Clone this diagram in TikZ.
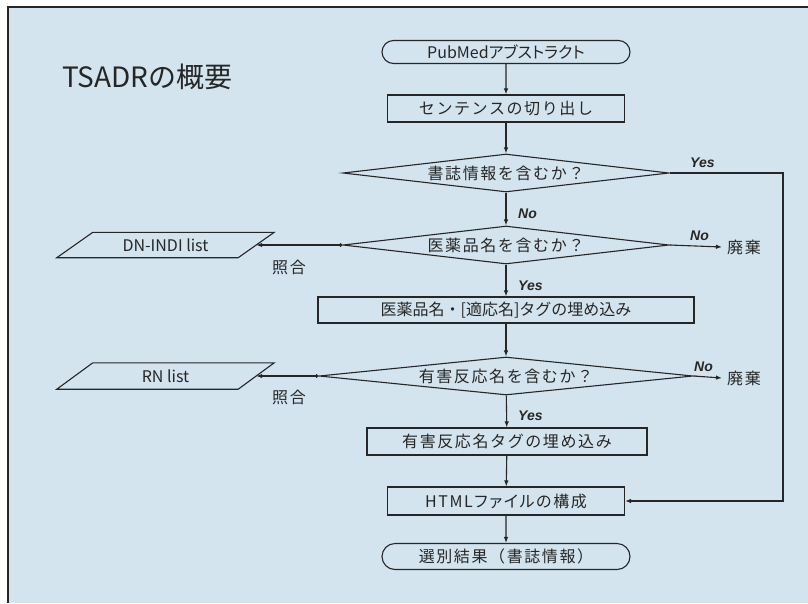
\documentclass[tikz,border=0pt]{standalone}
\usepackage{fontspec}
\setmainfont{Noto Sans CJK JP}[LetterSpace=10]
\newfontfamily\pfont{Noto Sans CJK JP}[RawFeature=+palt]
\newfontfamily\plfont{Noto Sans CJK JP}[RawFeature=+palt, LetterSpace=10]
\newfontfamily\tfont{Noto Sans CJK JP}
\newfontfamily\ynfont{Liberation Sans}
\usetikzlibrary{arrows.meta,shapes.geometric,shapes.misc}
\definecolor{bgblue}{HTML}{D3E4EE}
\definecolor{ink}{HTML}{262626}
\begin{document}
\begin{tikzpicture}[x=1pt,y=-1pt,
  base/.style={draw=ink, line width=1.1pt, text=ink, font=\fontsize{16}{16}\selectfont, inner sep=0pt},
  proc/.style={base, rectangle},
  term/.style={base, rounded rectangle},
  dec/.style={base, diamond, aspect=8},
  txt/.style={text=ink, font=\fontsize{16}{16}\selectfont, inner sep=0pt},
  lbl/.style={text=ink, font=\fontsize{16}{16}\selectfont, inner sep=5pt},
  flow/.style={draw=ink, line width=1.1pt, -{Latex[length=6pt,width=4.5pt]}},
  lflow/.style={draw=ink, line width=1.1pt, {Circle[length=3.5pt]}-{Latex[length=6pt,width=4.5pt]}},
  yn/.style={text=ink, font=\ynfont\bfseries\itshape\fontsize{14}{14}\selectfont, inner sep=0pt},
  para/.style={draw=ink, line width=1.1pt}
]
\useasboundingbox (0,0) rectangle (808,603);
\fill[white] (0,0) rectangle (808,603);
\fill[bgblue] (8,7) rectangle (808,603);
\draw[ink, line width=1.6pt] (8,603) -- (8,7) -- (808,7);

\node[anchor=west, text=ink, inner sep=0pt, font=\tfont\fontsize{28}{28}\selectfont] (title) at (62,77) {TSADRの概要};

\node[term, minimum width=248pt, minimum height=23pt, font=\pfont\fontsize{16}{16}\selectfont] (start) at (506,52) {PubMedアブストラクト};
\node[proc, minimum width=237pt, minimum height=27pt] (sent) at (506,108.5) {センテンスの切り出し};
\node[dec, minimum width=326pt, minimum height=38pt] (d1) at (506,173) {書誌情報を含むか？};
\node[dec, minimum width=326pt, minimum height=38pt] (d2) at (506,245) {医薬品名を含むか？};
\node[proc, minimum width=376pt, minimum height=26pt, font=\tfont\fontsize{16}{16}\selectfont] (tag1) at (506,310) {医薬品名・[適応名]タグの埋め込み};
\node[dec, minimum width=374pt, minimum height=38pt] (d3) at (506,376) {有害反応名を含むか？};
\node[proc, minimum width=280pt, minimum height=27pt] (tag2) at (507,441.5) {有害反応名タグの埋め込み};
\node[proc, minimum width=237pt, minimum height=28pt, font=\plfont\fontsize{16}{16}\selectfont] (html) at (506,501) {HTMLファイルの構成};
\node[term, minimum width=248pt, minimum height=26pt] (end) at (506,556.5) {選別結果（書誌情報）};

% input/output lists
\node[txt, minimum width=181pt, minimum height=25pt, font=\tfont\fontsize{16}{16}\selectfont] (dn) at (165.5,245) {DN-INDI list};
\draw[para] ([xshift=-18pt]dn.south west) -- ([xshift=-18pt]dn.south east) -- ([xshift=18pt]dn.north east) -- ([xshift=18pt]dn.north west) -- cycle;
\node[txt, minimum width=181pt, minimum height=26pt, font=\tfont\fontsize{16}{16}\selectfont] (rn) at (165.5,376) {RN list};
\draw[para] ([xshift=-18pt]rn.south west) -- ([xshift=-18pt]rn.south east) -- ([xshift=18pt]rn.north east) -- ([xshift=18pt]rn.north west) -- cycle;

% discard nodes
\node[lbl, anchor=west] (h1) at (722,247) {廃棄};
\node[lbl, anchor=west] (h2) at (722,378) {廃棄};

% main flow
\draw[flow] (start) -- (sent);
\draw[flow] (sent) -- (d1);
\draw[flow] (d1) -- (d2);
\draw[flow] (d2) -- (tag1);
\draw[flow] (tag1) -- (d3);
\draw[flow] (d3) -- (tag2);
\draw[flow] (tag2) -- (html);
\draw[flow] (html) -- (end);

% yes branch of d1
\coordinate (yc) at (783,173);
\draw[flow] (d1.east) -- (yc) |- (html.east);

% no branches
\draw[flow] (d2.east) -- (h1.west);
\draw[flow] (d3.east) -- (h2.west);

% matching
\draw[lflow] (d2.west) -- (dn.east);
\draw[lflow] (d3.west) -- (rn.east);

% labels
\node[yn, anchor=south west] (l1) at (690,168) {Yes};
\node[yn, anchor=west] (l2) at (518,214) {No};
\node[yn, anchor=south west] (l3) at (690,241) {No};
\node[yn, anchor=west] (l4) at (518,286) {Yes};
\node[yn, anchor=south west] (l5) at (694,372) {No};
\node[yn, anchor=west] (l6) at (518,416) {Yes};
\node[txt] (s1) at (289,267) {照合};
\node[txt] (s2) at (289,397) {照合};
\end{tikzpicture}
\end{document}
